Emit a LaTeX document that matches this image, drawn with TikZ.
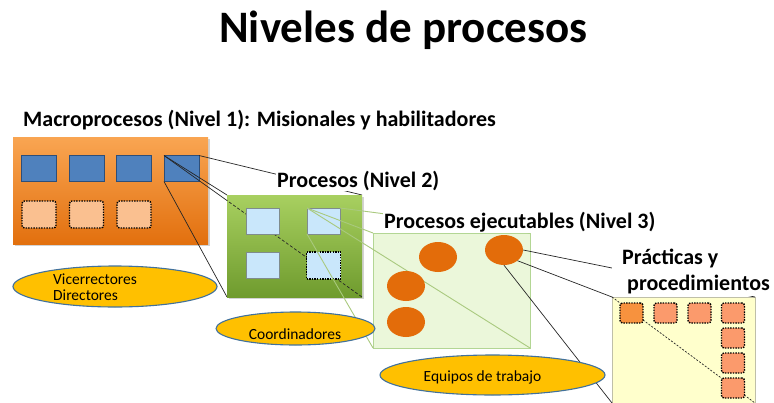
\documentclass[tikz,border=0pt]{standalone}
\usepackage{fontspec}
\setmainfont{Carlito}
\usepackage{tikz}
\usetikzlibrary{shapes.geometric,shadows}
\definecolor{macrotop}{HTML}{F9A552}
\definecolor{macrobot}{HTML}{E2700E}
\definecolor{macrosq}{HTML}{4F81BD}
\definecolor{macroln}{HTML}{2E4E78}
\definecolor{peach}{HTML}{FAC090}
\definecolor{proctop}{HTML}{A8D060}
\definecolor{procbot}{HTML}{6F9B2E}
\definecolor{procsq}{HTML}{C9E7FB}
\definecolor{procln}{HTML}{7F8C8C}
\definecolor{ejecfill}{HTML}{EBF7DA}
\definecolor{ejecln}{HTML}{B3D694}
\definecolor{ejecdot}{HTML}{E36C0A}
\definecolor{pracfill}{HTML}{FFFFCC}
\definecolor{pracln}{HTML}{BFBFA8}
\definecolor{pracsq}{HTML}{FB9A6C}
\definecolor{pracsqa}{HTML}{F7923E}
\definecolor{actor}{HTML}{FFC000}
\definecolor{actorln}{HTML}{41719C}
\definecolor{linkgreen}{HTML}{A9C97E}

\begin{document}
\begin{tikzpicture}[x=1pt,y=-1pt,
    box/.style={rectangle,inner sep=0pt,outer sep=0pt},
    shade/.style={drop shadow={opacity=0.35,shadow xshift=2pt,shadow yshift=-2pt}},
    dotbox/.style={box,draw=black,line width=1.4pt,dash pattern=on 1.4pt off 1.2pt,rounded corners=2.5pt},
    lvl/.style={font=\fontsize{22}{26}\selectfont\bfseries,inner sep=1pt,fill=white},
    actorbox/.style={ellipse,fill=actor,draw=actorln,line width=1.1pt,inner sep=0pt},
    actortxt/.style={font=\fontsize{15.5}{16.5}\selectfont,inner sep=0pt},
    link/.style={black!85,line width=0.7pt},
    glink/.style={linkgreen,line width=0.9pt}]
\clip (0,0) rectangle (774,402);

\node[font=\fontsize{45}{50}\selectfont\bfseries,anchor=base] (titulo) at (403.5,42) {Niveles de procesos};
\node[lvl,anchor=base west] (lbl1) at (22,126) {Macroprocesos (Nivel 1): Misionales y habilitadores};

% nivel 1
\node[box,minimum width=195pt,minimum height=107pt,top color=macrotop,bottom color=macrobot,shade] (macro) at (110.5,190.5) {};
\foreach \i/\x in {1/39,2/86.5,3/134,4/181.5}
  \node[box,minimum width=35pt,minimum height=26pt,fill=macrosq,draw=macroln,line width=0.6pt] (m\i) at (\x,168.5) {};
\foreach \i/\x in {1/39,2/86.5,3/134}
  \node[dotbox,minimum width=34pt,minimum height=27pt,fill=peach] (p\i) at (\x,214.5) {};

% nivel 2
\node[box,minimum width=135pt,minimum height=102pt] (proc) at (294.5,246) {};
\draw[link] (m4.north east) -- (proc.north east);
\draw[link] (m4.north west) -- (proc.north west);
\draw[link] (m4.south west) -- (proc.south west);
\draw[link] (m4.north west) -- (proc.south east);
\node[box,minimum width=135pt,minimum height=102pt,top color=proctop,bottom color=procbot,shade] at (proc) {};
\begin{scope}
  \clip (proc.north west) rectangle (proc.south east);
  \draw[link,dash pattern=on 3pt off 2pt] (m4.north west) -- (proc.south east);
\end{scope}
\foreach \i/\x/\y in {1/262.5/221,2/323.5/221,3/262.5/265.5}
  \node[box,minimum width=33pt,minimum height=26pt,fill=procsq,draw=procln,line width=0.8pt] (q\i) at (\x,\y) {};
\node[dotbox,rounded corners=0pt,minimum width=34pt,minimum height=27pt,fill=procsq] (q4) at (323.5,265.5) {};

% nivel 3
\node[box,minimum width=157pt,minimum height=115pt,fill=ejecfill,draw=ejecln,line width=1pt] (ejec) at (451.5,290.5) {};
\draw[glink] (q2.north east) -- (ejec.north east);
\draw[glink] (q2.north west) -- (ejec.north west);
\draw[glink] (q2.north west) -- (ejec.south east);
\draw[glink] (q2.south west) -- (ejec.south west);
\foreach \i/\x/\y in {1/438/257,2/504/250,3/406/286,4/406/322}
  \node[ellipse,inner sep=0pt,minimum width=38pt,minimum height=30pt,fill=ejecdot] (e\i) at (\x,\y) {};

% nivel 4
\node[box,minimum width=143pt,minimum height=106pt,fill=pracfill,draw=pracln,line width=1pt] (prac) at (683.5,350) {};
\draw[link] (e2.east) -- (prac.north east);
\draw[link] (e2.south east) -- (prac.north west);
\draw[link] (e2.south) -- (prac.south west);
\draw[link,dash pattern=on 2pt off 1.5pt] (prac.north west) -- (prac.south east);
\node[dotbox,minimum width=23pt,minimum height=20pt,fill=pracsqa] (r1) at (631.5,313) {};
\foreach \i/\x/\y in {2/665.5/313,3/699.5/313,4/733/313,5/733/338,6/733/363,7/733/388}
  \node[dotbox,minimum width=23pt,minimum height=20pt,fill=pracsq] (r\i) at (\x,\y) {};

% etiquetas
\node[lvl,anchor=base west] (lbl2) at (276,187) {Procesos (Nivel 2)};
\node[lvl,anchor=base west] (lbl3) at (383,228) {Procesos ejecutables (Nivel 3)};
\node[lvl,align=left,anchor=north west,inner xsep=10pt,inner ysep=2pt] (lbl4) at (612,247) {Prácticas y\\\hspace*{5pt}procedimientos};

% actores
\node[actorbox,minimum width=204pt,minimum height=41pt] (vic) at (115,286.5) {};
\node[actortxt,align=left,anchor=west] (vic-t) at (53,287) {Vicerrectores\\Directores};
\node[actorbox,minimum width=159pt,minimum height=33pt] (coord) at (295.5,328.5) {};
\node[actortxt,anchor=base] (coord-t) at (295,339) {Coordinadores};
\node[actorbox,minimum width=225pt,minimum height=40pt] (equipos) at (492.5,375) {};
\node[actortxt,anchor=base] (equipos-t) at (482.5,381) {Equipos de trabajo};
\end{tikzpicture}
\end{document}
